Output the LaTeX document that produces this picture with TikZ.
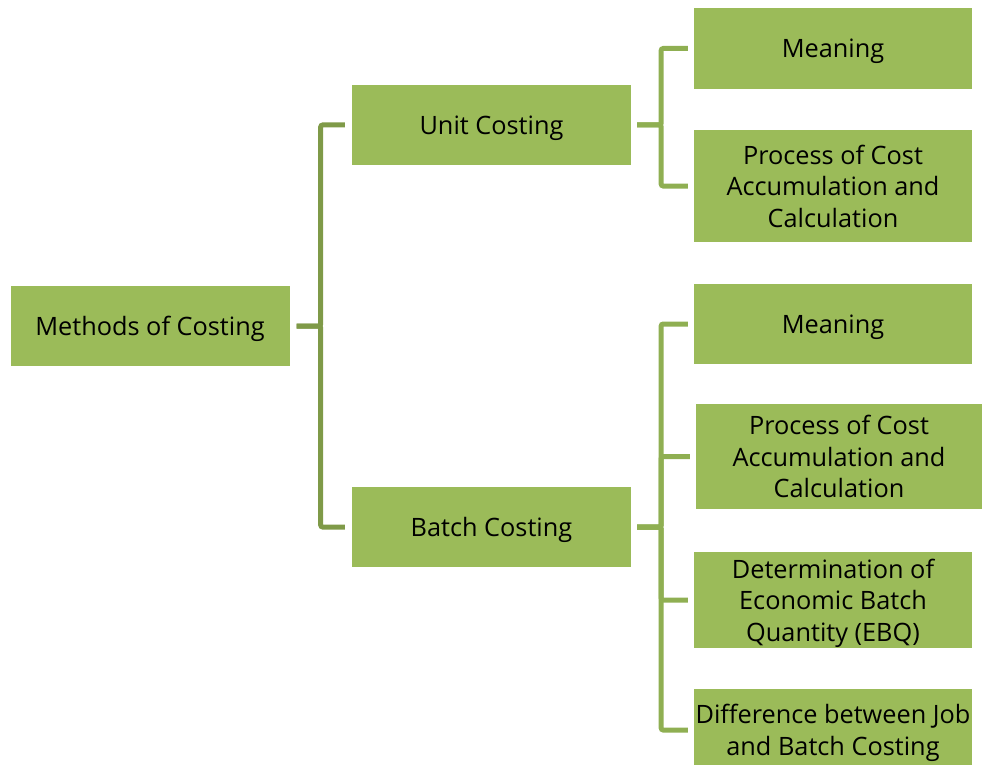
\documentclass[tikz,border=0pt]{standalone}
\usepackage{fontspec}
\setmainfont{Open Sans}
\definecolor{boxgreen}{HTML}{9BBB59}
\definecolor{connA}{HTML}{7F9A48}
\definecolor{connB}{HTML}{8FAF52}
\begin{document}
\begin{tikzpicture}[x=1pt,y=-1pt,
  box/.style={fill=boxgreen, draw=none, inner sep=0pt, align=center, text depth=0pt,
    font=\fontsize{25.3}{31.5}\selectfont, text=black},
  connone/.style={draw=connA, line width=5pt, rounded corners=2pt, shorten <=7pt, shorten >=7pt},
  conntwo/.style={draw=connB, line width=5pt, rounded corners=2pt, shorten <=6pt, shorten >=6pt}]
\useasboundingbox (0,0) rectangle (982,765);
\node[box, minimum width=279pt, minimum height=80pt] (root) at (150,326) {Methods of Costing};
\node[box, minimum width=279pt, minimum height=80pt] (unit) at (491.5,125) {Unit Costing};
\node[box, minimum width=279pt, minimum height=80pt] (batch) at (491.5,527) {Batch Costing};
\node[box, minimum width=278pt, minimum height=81pt] (m1) at (833,48.5) {Meaning};
\node[box, minimum width=278pt, minimum height=112pt] (p1) at (833,186) {Process of Cost\\Accumulation and\\Calculation};
\node[box, minimum width=278pt, minimum height=80pt] (m2) at (833,324) {Meaning};
\node[box, minimum width=286pt, minimum height=105pt] (p2) at (839,456.5) {Process of Cost\\Accumulation and\\Calculation};
\node[box, minimum width=278pt, minimum height=96pt] (d2) at (833,600) {Determination of\\Economic Batch\\Quantity (EBQ)};
\node[box, minimum width=278pt, minimum height=82pt] (j2) at (833,730) {Difference between Job\\and Batch Costing};
% level one connectors
\draw[connone] (root.east) -- ++(31,0) |- (unit.west);
\draw[connone] (root.east) -- ++(31,0) |- (batch.west);
% unit costing children
\draw[conntwo] (unit.east) -- ++(30,0) |- (m1.west);
\draw[conntwo] (unit.east) -- ++(30,0) |- (p1.west);
% batch costing children
\draw[conntwo] (batch.east) -- ++(30,0) |- (m2.west);
\draw[conntwo] (batch.east) -- ++(30,0) |- (p2.west);
\draw[conntwo] (batch.east) -- ++(30,0) |- (d2.west);
\draw[conntwo] (batch.east) -- ++(30,0) |- (j2.west);
\end{tikzpicture}
\end{document}
